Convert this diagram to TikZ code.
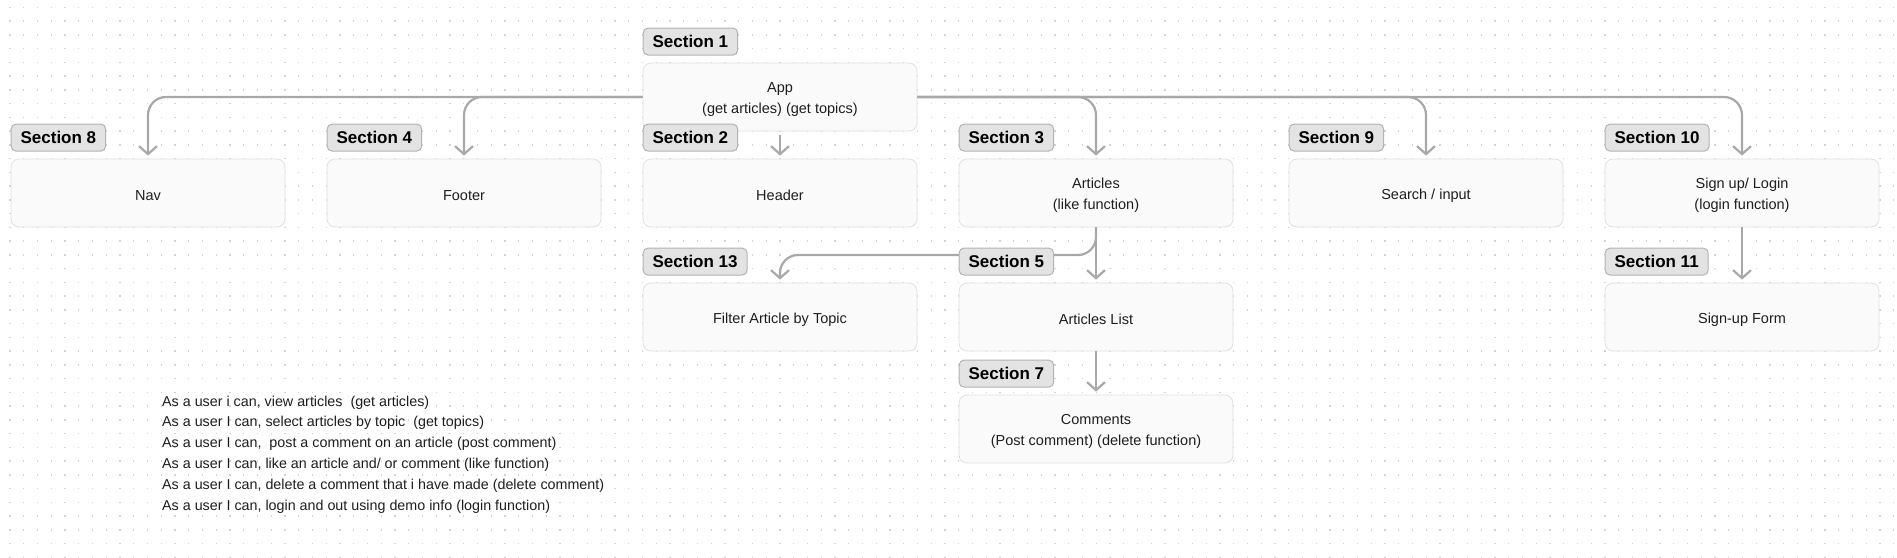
\documentclass[tikz,border=0pt]{standalone}
\usepackage{fontspec}
\setmainfont{Liberation Sans}
\usetikzlibrary{arrows.meta}
\definecolor{bxfill}{HTML}{FAFAFA}
\definecolor{bxline}{HTML}{E0E0E0}
\definecolor{lbfill}{HTML}{E3E3E3}
\definecolor{lbline}{HTML}{B3B3B3}
\definecolor{lnc}{HTML}{A8A8A8}
\definecolor{dotc}{HTML}{D2D2D2}
\definecolor{txt}{HTML}{1E1E1E}
\tikzset{
  box/.style={draw=bxline, line width=0.8pt, fill=bxfill, rounded corners=8pt,
    minimum width=274pt, minimum height=68pt},
  boxtext/.style={align=center, text=txt, inner sep=0pt, yshift=-2.3pt,
    font=\fontsize{14.5}{21}\selectfont},
  seclabel/.style={draw=lbline, line width=1pt, fill=lbfill, rounded corners=5pt,
    font=\fontsize{17}{17}\selectfont\bfseries, minimum height=27pt, inner xsep=9.5pt,
    inner ysep=0pt, text=black, anchor=south west},
  conn/.style={draw=lnc, line width=2.2pt, rounded corners=18pt,
    -{Straight Barb[length=8pt,width=18pt]}, shorten >=3pt},
}
\begin{document}
\begin{tikzpicture}[x=1pt,y=-1pt]
\useasboundingbox (0,0) rectangle (1897,557);
\fill[white] (0,0) rectangle (1897,557);
\foreach \i in {0,...,137} {
  \foreach \j in {0,...,40} {
    \fill[dotc] ({10+13.75*\i-0.7},{7.3+13.75*\j-0.7}) rectangle ++(1.4,1.4);
  }
}
% boxes
\node[box, label={[boxtext]center:{App\\(get articles) (get topics)}}] (app) at (780,97) {};
\node[box, label={[boxtext]center:{Nav}}] (nav) at (148,193) {};
\node[box, label={[boxtext]center:{Footer}}] (ftr) at (464,193) {};
\node[box, label={[boxtext]center:{Header}}] (hdr) at (780,193) {};
\node[box, label={[boxtext]center:{Articles\\(like function)}}] (art) at (1096,193) {};
\node[box, label={[boxtext]center:{Search / input}}] (srch) at (1426,193) {};
\node[box, label={[boxtext]center:{Sign up/ Login\\(login function)}}] (sign) at (1742,193) {};
\node[box, label={[boxtext]center:{Filter Article by Topic}}] (flt) at (780,317) {};
\node[box, label={[boxtext]center:{Articles List}}] (alist) at (1096,317) {};
\node[box, label={[boxtext]center:{Sign-up Form}}] (sform) at (1742,317) {};
\node[box, label={[boxtext]center:{Comments\\(Post comment) (delete function)}}] (cmt) at (1096,429) {};
% connectors
\draw[conn] (app.west) -| (nav.north);
\draw[conn] (app.west) -| (ftr.north);
\draw[conn] (app.east) -| (art.north);
\draw[conn] (app.east) -| (srch.north);
\draw[conn] (app.east) -| (sign.north);
\draw[conn, shorten <=4pt] (app.south) -- (hdr.north);
\coordinate (brk) at (780,255);
\draw[conn] (art.south) |- (brk) -- (flt.north);
\draw[conn] (art.south) -- (alist.north);
\draw[conn] (alist.south) -- (cmt.north);
\draw[conn] (sign.south) -- (sform.north);
% section labels
\node[seclabel] (l1) at ([yshift=7pt]app.north west) {Section 1};
\node[seclabel] (l8) at ([yshift=7pt]nav.north west) {Section 8};
\node[seclabel] (l4) at ([yshift=7pt]ftr.north west) {Section 4};
\node[seclabel] (l2) at ([yshift=7pt]hdr.north west) {Section 2};
\node[seclabel] (l3) at ([yshift=7pt]art.north west) {Section 3};
\node[seclabel] (l9) at ([yshift=7pt]srch.north west) {Section 9};
\node[seclabel] (l10) at ([yshift=7pt]sign.north west) {Section 10};
\node[seclabel] (l13) at ([yshift=7pt]flt.north west) {Section 13};
\node[seclabel] (l5) at ([yshift=7pt]alist.north west) {Section 5};
\node[seclabel] (l11) at ([yshift=7pt]sform.north west) {Section 11};
\node[seclabel] (l7) at ([yshift=7pt]cmt.north west) {Section 7};
% user stories
\node[anchor=north west, inner sep=0pt, align=left, text=txt,
  font=\fontsize{14.3}{20.8}\selectfont] (stories) at (162,395.5) {%
As a user i can, view articles\ \ (get articles)\\
As a user I can, select articles by topic\ \ (get topics)\\
As a user I can,\ \ post a comment on an article (post comment)\\
As a user I can, like an article and/ or comment (like function)\\
As a user I can, delete a comment that i have made (delete comment)\\
As a user I can, login and out using demo info (login function)};
\end{tikzpicture}
\end{document}
